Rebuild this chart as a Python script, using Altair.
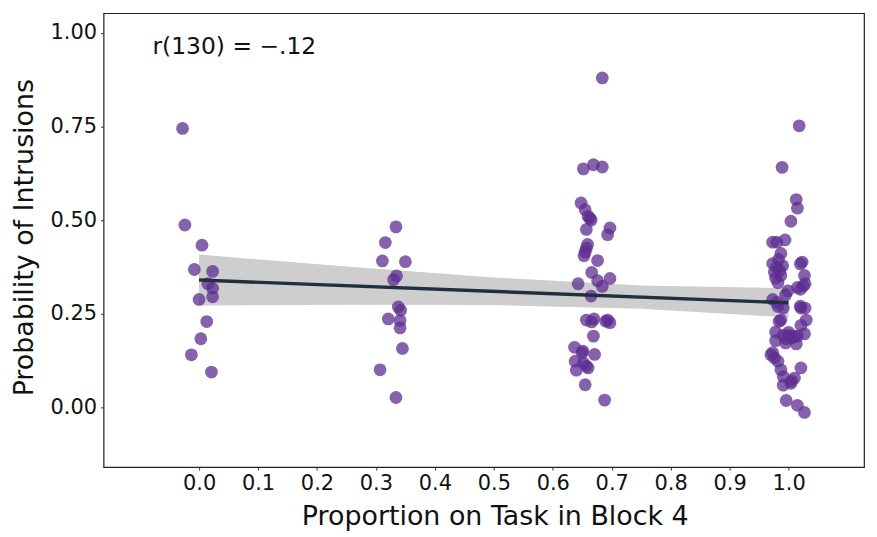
import altair as alt
import pandas as pd

# --- data (jittered positions) ---
x0 = [-0.028, -0.024, 0.005, -0.008, 0.023, 0.015, 0.023, 0.000, 0.023, 0.013, 0.003, -0.013, 0.021]
y0 = [0.745, 0.487, 0.433, 0.368, 0.363, 0.330, 0.318, 0.288, 0.295, 0.229, 0.183, 0.140, 0.094]

x33 = [0.334, 0.316, 0.311, 0.350, 0.335, 0.330, 0.338, 0.342, 0.321, 0.341, 0.341, 0.345, 0.307, 0.334]
y33 = [0.482, 0.440, 0.391, 0.389, 0.351, 0.341, 0.268, 0.259, 0.236, 0.232, 0.212, 0.157, 0.100, 0.026]

x67 = [0.684, 0.652, 0.669, 0.684, 0.648, 0.655, 0.663, 0.665, 0.657, 0.697, 0.693, 0.659, 0.655, 0.653,
       0.676, 0.666, 0.676, 0.697, 0.643, 0.684, 0.665, 0.657, 0.666, 0.693, 0.697, 0.669, 0.637, 0.651,
       0.671, 0.638, 0.652, 0.657, 0.640, 0.655, 0.688, 0.660, 0.657, 0.670, 0.690, 0.650, 0.660]
y67 = [0.880, 0.637, 0.648, 0.642, 0.546, 0.528, 0.505, 0.500, 0.475, 0.479, 0.461, 0.435, 0.415, 0.405,
       0.392, 0.360, 0.338, 0.344, 0.330, 0.323, 0.297, 0.233, 0.228, 0.233, 0.226, 0.190, 0.160, 0.150,
       0.141, 0.123, 0.118, 0.110, 0.099, 0.060, 0.019, 0.510, 0.425, 0.236, 0.230, 0.145, 0.105]

x100 = [1.018, 0.989, 1.013, 1.015, 1.004, 0.973, 0.980, 0.994, 0.987, 0.973, 0.980, 1.023, 1.020, 0.976,
        0.987, 1.027, 0.982, 1.025, 1.015, 0.999, 0.973, 0.982, 0.991, 1.021, 1.028, 0.987, 1.030, 1.021,
        0.978, 0.991, 1.000, 1.010, 1.027, 0.978, 0.996, 1.013, 0.973, 0.976, 0.982, 0.987, 1.021, 0.991,
        1.010, 0.991, 1.004, 0.996, 1.015, 1.027, 0.983, 0.990, 0.978, 0.985, 1.020, 1.028, 0.995, 0.984,
        1.005, 1.015, 0.995, 1.000, 0.970, 1.005, 1.020, 0.980]
y100 = [0.752, 0.641, 0.555, 0.532, 0.497, 0.441, 0.441, 0.447, 0.411, 0.384, 0.374, 0.388, 0.383, 0.361,
        0.352, 0.352, 0.333, 0.324, 0.320, 0.311, 0.288, 0.269, 0.265, 0.265, 0.265, 0.233, 0.233, 0.219,
        0.201, 0.192, 0.192, 0.189, 0.196, 0.178, 0.183, 0.169, 0.146, 0.132, 0.123, 0.100, 0.105, 0.082,
        0.078, 0.059, 0.064, 0.018, 0.005, -0.014, 0.395, 0.378, 0.345, 0.365, 0.315, 0.330, 0.300, 0.230,
        0.185, 0.190, 0.172, 0.200, 0.140, 0.070, 0.270, 0.280]

# fitted line and confidence band
fit_x = [0.0, 1.0]
fit_y = [0.340, 0.279]
band_x = [0.0, 0.25, 0.5, 0.75, 1.0]
band_hi = [0.408, 0.376, 0.347, 0.325, 0.318]
band_lo = [0.272, 0.274, 0.273, 0.263, 0.240]

x_ticks = [0.0, 0.1, 0.2, 0.3, 0.4, 0.5, 0.6, 0.7, 0.8, 0.9, 1.0]
y_ticks = [0.0, 0.25, 0.5, 0.75, 1.0]

ann_x = [-0.079]
ann_y = [0.944]
ann_text = ["r(130) = \u2212.12"]

FONT = "DejaVu Sans"
XDOM = [-0.162, 1.128]
YDOM = [-0.16, 1.053]

pts = pd.DataFrame({"x": x0 + x33 + x67 + x100, "y": y0 + y33 + y67 + y100})
fit = pd.DataFrame({"x": fit_x, "y": fit_y})
band = pd.DataFrame({"x": band_x, "lo": band_lo, "hi": band_hi})
ann = pd.DataFrame({"x": ann_x, "y": ann_y, "t": ann_text})

xs = alt.Scale(domain=XDOM, nice=False, zero=False)
ys = alt.Scale(domain=YDOM, nice=False, zero=False)

ax_x = alt.Axis(
    values=x_ticks, format=".1f", title="Proportion on Task in Block 4",
    labelFont=FONT, labelFontSize=21, labelColor="#111", labelPadding=3,
    tickSize=3, tickColor="#333", domain=False, grid=False,
    titleFont=FONT, titleFontSize=27, titleFontWeight="normal", titleColor="#111",
    titleX=393, titleY=58, titleBaseline="alphabetic", titleAlign="center")
ax_y = alt.Axis(
    values=y_ticks, format=".2f", title="Probability of Intrusions",
    labelFont=FONT, labelFontSize=21, labelColor="#111", labelPadding=4,
    tickSize=3, tickColor="#333", domain=False, grid=False,
    titleFont=FONT, titleFontSize=27, titleFontWeight="normal", titleColor="#111",
    titleX=-71, titleY=225, titleBaseline="alphabetic", titleAlign="center", titleAngle=270)

band_layer = alt.Chart(band).mark_area(color="#cecece", opacity=1).encode(
    x=alt.X("x:Q", scale=xs, axis=ax_x, title="Proportion on Task in Block 4"),
    y=alt.Y("lo:Q", scale=ys, axis=ax_y, title="Probability of Intrusions"),
    y2="hi:Q",
)

point_layer = alt.Chart(pts).mark_circle(size=165, color="#5e2d91", opacity=0.75).encode(
    x=alt.X("x:Q", scale=xs, axis=ax_x, title="Proportion on Task in Block 4"),
    y=alt.Y("y:Q", scale=ys, axis=ax_y, title="Probability of Intrusions"),
)

line_layer = alt.Chart(fit).mark_line(color="#22303d", strokeWidth=3.5).encode(
    x=alt.X("x:Q", scale=xs, axis=ax_x, title="Proportion on Task in Block 4"),
    y=alt.Y("y:Q", scale=ys, axis=ax_y, title="Probability of Intrusions"),
)

text_layer = alt.Chart(ann).mark_text(
    align="left", baseline="alphabetic", font=FONT, fontSize=23.5, color="#111"
).encode(
    x=alt.X("x:Q", scale=xs, axis=ax_x, title="Proportion on Task in Block 4"),
    y=alt.Y("y:Q", scale=ys, axis=ax_y, title="Probability of Intrusions"),
    text="t:N",
)

chart = alt.layer(band_layer, point_layer, line_layer, text_layer).properties(
    width=764, height=456,
    autosize=alt.AutoSizeParams(type="none"),
    padding={"left": 96, "top": 4, "right": 5, "bottom": 66},
).configure(
    background="white",
    view=alt.ViewConfig(stroke="#222222", strokeWidth=1.2),
)

chart.save("out.html", embed_options={"renderer": "svg", "actions": False})
